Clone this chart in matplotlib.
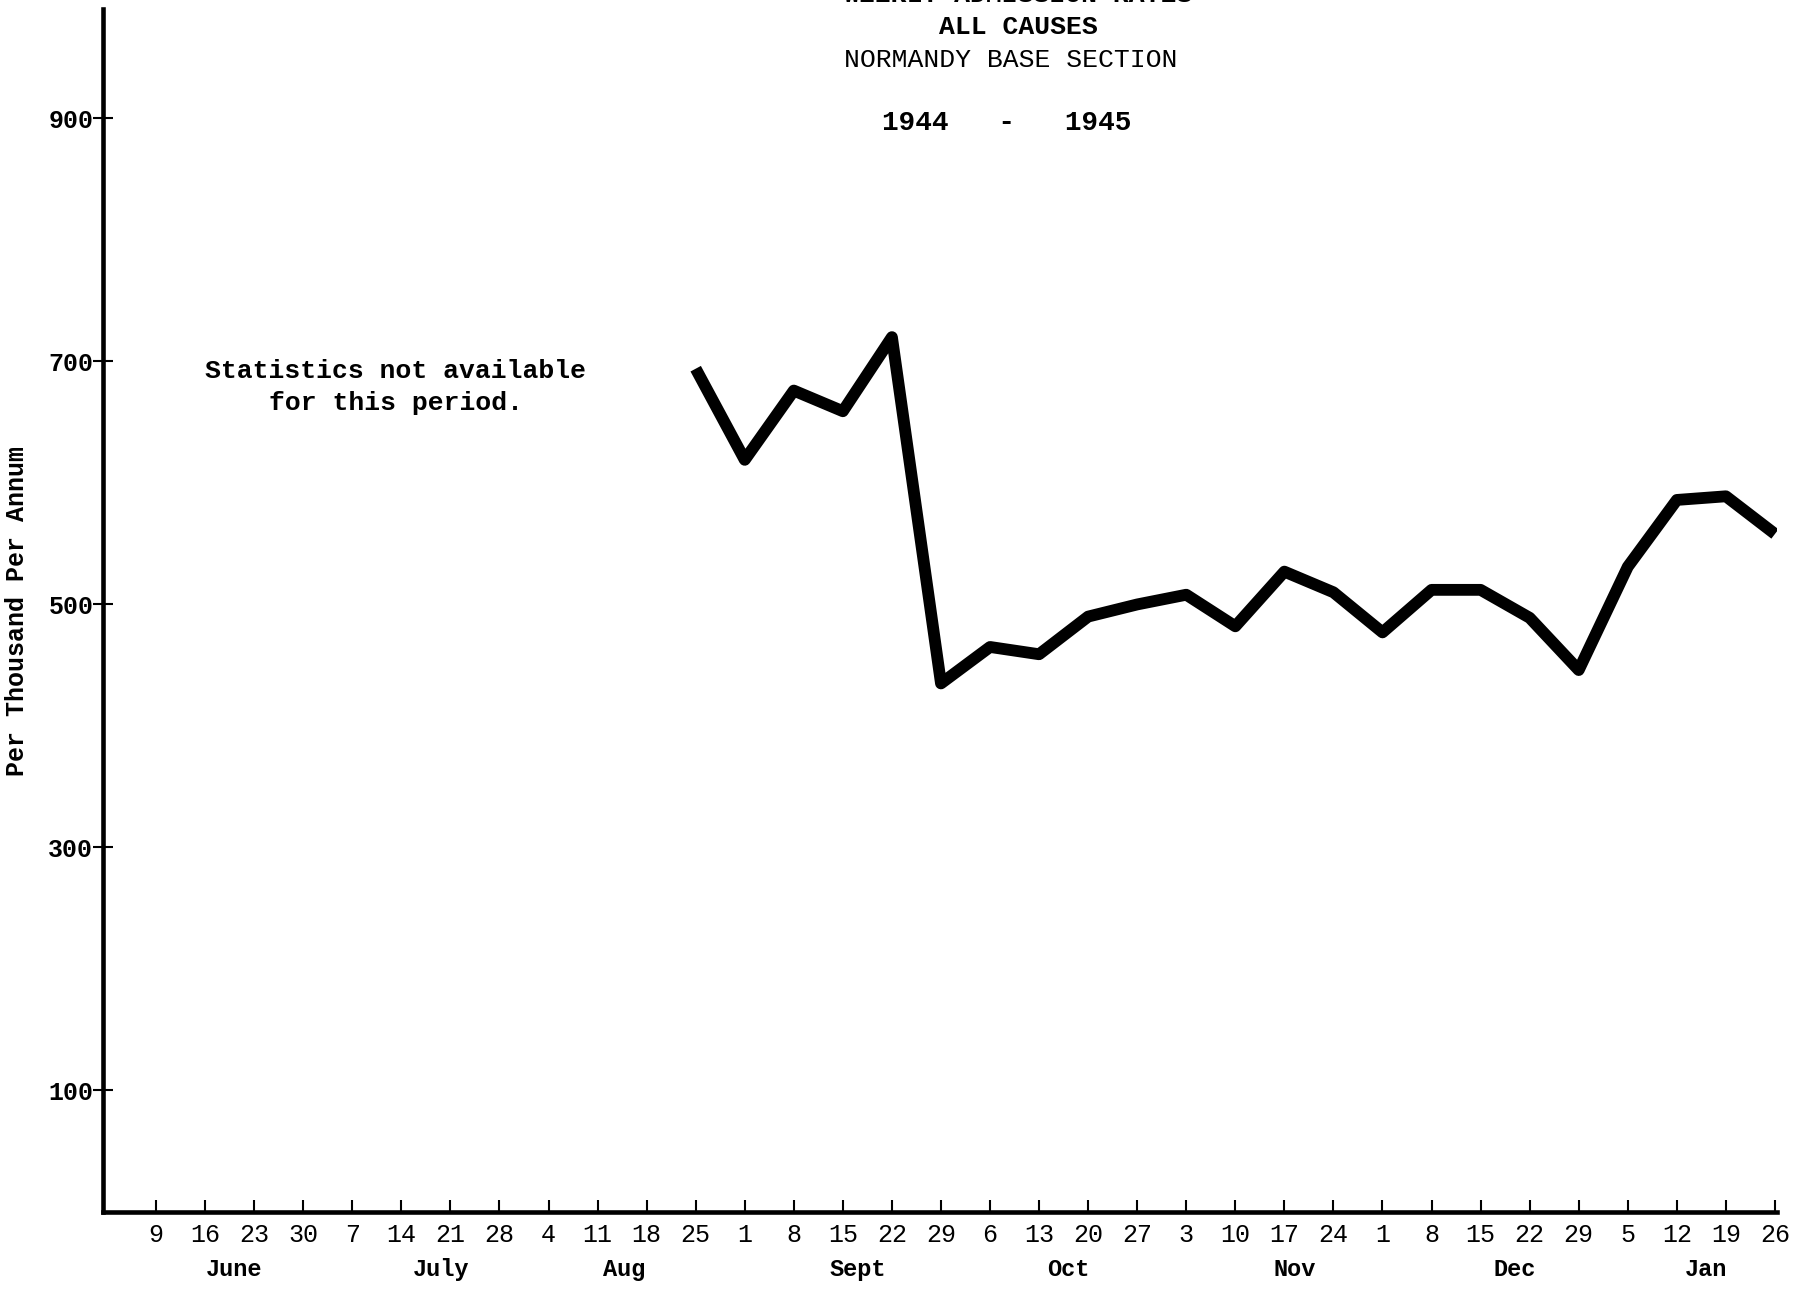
import numpy as np
import matplotlib.pyplot as plt

"""
1. Chart data (weekly admission rates, per thousand per annum)
"""
week_labels = ['9', '16', '23', '30', '7', '14', '21', '28', '4', '11', '18',
               '25', '1', '8', '15', '22', '29', '6', '13', '20', '27', '3',
               '10', '17', '24', '1', '8', '15', '22', '29', '5', '12', '19',
               '26']
months = ['June', 'July', 'Aug', 'Sept', 'Oct', 'Nov', 'Dec', 'Jan']
month_pos = [1.6, 5.8, 9.55, 14.3, 18.6, 23.2, 27.7, 31.6]

# data only exists from Aug 25 (week index 11) onward
first_week = 11
rates = [694, 619, 676, 659, 720, 435, 465, 459, 490, 500, 508, 482,
         527, 510, 477, 512, 512, 489, 446, 531, 586, 589, 558]

y_ticks = [100, 300, 500, 700, 900]

mono = 'Liberation Mono'

"""
2. Plot
"""
fig = plt.figure(figsize=(17.99, 12.91), dpi=100)
ax = fig.add_axes([0.0573, 0.0612, 0.9307, 0.9318])

x = np.arange(first_week, first_week + len(rates))
ax.plot(x, rates, color='black', lw=8.5, solid_joinstyle='round',
        solid_capstyle='butt')

ax.set_xlim(-1.08, 33.05)
ax.set_ylim(0, 990)

for s in ['top', 'right']:
    ax.spines[s].set_visible(False)
for s in ['left', 'bottom']:
    ax.spines[s].set_linewidth(3.3)

ax.set_xticks(np.arange(len(week_labels)))
ax.set_xticklabels(week_labels, family=mono, fontsize=18)
ax.tick_params(axis='x', direction='in', length=9, width=1.5, pad=8)

ax.set_yticks(y_ticks)
ax.set_yticklabels([str(v) for v in y_ticks], family=mono, fontsize=18,
                   fontweight='bold')
ax.tick_params(axis='y', direction='inout', length=14, width=1.5, pad=0)

# month names under the week numbers
for name, pos in zip(months, month_pos):
    ax.text(pos, -0.048, name, transform=ax.get_xaxis_transform(),
            ha='center', va='center', family=mono, fontsize=17,
            fontweight='bold')

ax.set_ylabel('Per Thousand Per Annum', family=mono, fontsize=18,
              fontweight='bold', labelpad=14)

ax.text(396 / 1799, 1 - 387 / 1291,
        'Statistics not available\nfor this period.',
        transform=fig.transFigure, ha='center', va='center',
        family=mono, fontsize=19, fontweight='bold', linespacing=1.4)

"""
3. Title block (first line is cut off at the top of the page)
"""
fig.text(1018 / 1799, 1 - 7 / 1291, 'WEEKLY ADMISSION RATES',
         ha='center', va='bottom', family=mono, fontsize=19,
         fontweight='bold')
fig.text(1018 / 1799, 1 - 27 / 1291, 'ALL CAUSES', ha='center',
         va='center', family=mono, fontsize=19, fontweight='bold')
fig.text(1011 / 1799, 1 - 60 / 1291, 'NORMANDY BASE SECTION', ha='center',
         va='center', family=mono, fontsize=19)
fig.text(1007 / 1799, 1 - 123 / 1291, '1944   -   1945', ha='center',
         va='center', family=mono, fontsize=20, fontweight='bold')

plt.savefig('out.png', dpi=100)
